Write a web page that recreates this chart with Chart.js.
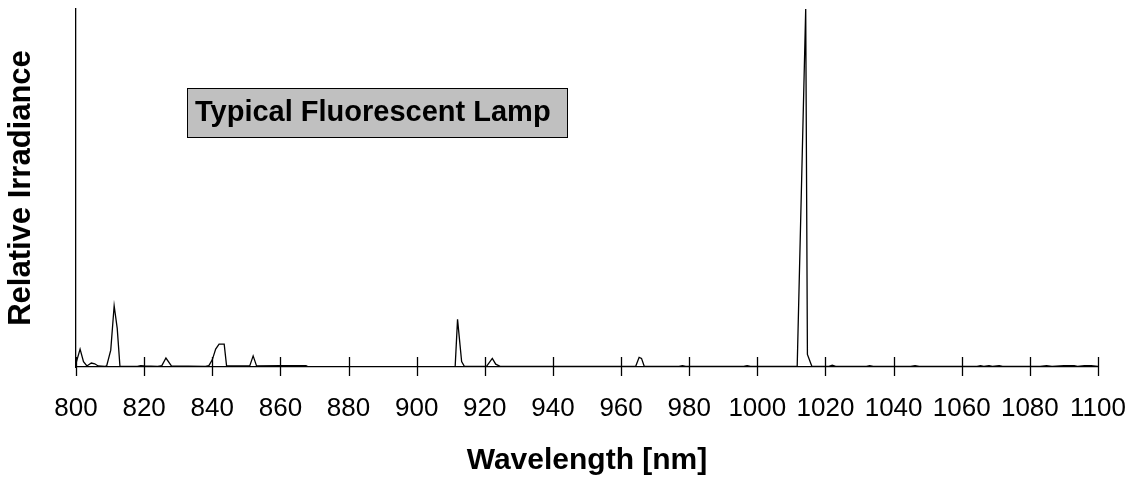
<!DOCTYPE html>
<html>
<head>
<meta charset="utf-8">
<script src="https://cdn.jsdelivr.net/npm/chart.js@4/dist/chart.umd.min.js"></script>
<style>
  html, body { margin: 0; padding: 0; background: #ffffff; }
  #wrap { width: 1133px; height: 477px; position: relative; }
</style>
</head>
<body>
<div id="wrap"><canvas id="c" width="1133" height="477"></canvas></div>
<script>
// Wavelength samples (nm)
const wavelengths = [
  800, 801.2, 802.2, 803.2, 804.5, 805.5, 806.5, 808.5, 809, 810.2, 811.2, 812.1, 812.9,
  818, 819, 820, 824, 825.2, 826.4, 828, 838, 839, 840, 841, 842, 843.5, 844.2,
  851, 852, 853, 860, 867.5, 868, 911.3, 912, 913.2, 914, 920.5, 922.2, 923.2, 924.5,
  964.3, 965.3, 966, 966.8, 977, 978, 979, 996, 997, 998,
  1011.7, 1014.2, 1014.7, 1016, 1021, 1022, 1023, 1032, 1033, 1034, 1045, 1046.3, 1047.5,
  1064.5, 1065.5, 1066.5, 1068, 1069, 1071, 1072, 1083, 1084.9, 1086.5, 1090, 1093, 1094,
  1096, 1098, 1100
];
// Relative irradiance at those wavelengths
const irradiance = [
  0.010, 0.050, 0.015, 0.003, 0.011, 0.009, 0.003, 0.002, 0.003, 0.047, 0.171, 0.108, 0.002,
  0.002, 0.004, 0.003, 0.002, 0.004, 0.025, 0.003, 0.002, 0.004, 0.020, 0.050, 0.064, 0.064, 0.003,
  0.003, 0.031, 0.003, 0.004, 0.004, 0.001, 0.001, 0.133, 0.015, 0.002, 0.002, 0.024, 0.008, 0.002,
  0.002, 0.027, 0.024, 0.002, 0.002, 0.004, 0.002, 0.002, 0.004, 0.002,
  0.002, 1.000, 0.035, 0.002, 0.002, 0.005, 0.002, 0.002, 0.004, 0.002, 0.002, 0.004, 0.002,
  0.002, 0.004, 0.002, 0.004, 0.002, 0.004, 0.002, 0.002, 0.004, 0.002, 0.004, 0.004, 0.002,
  0.004, 0.004, 0.002
];
const xTickValues = [800, 820, 840, 860, 880, 900, 920, 940, 960, 980, 1000, 1020, 1040, 1060, 1080, 1100];
const xTitle = 'Wavelength [nm]';
const yTitle = 'Relative Irradiance';
const boxLabel = 'Typical Fluorescent Lamp';

const FONT = '"Liberation Sans", Arial, Helvetica, sans-serif';

const points = wavelengths.map((w, i) => ({ x: w, y: irradiance[i] }));

// Tick marks crossing the x axis
const crossTicks = {
  id: 'crossTicks',
  afterDraw(chart) {
    const sx = chart.scales.x;
    const ctx = chart.ctx;
    const yb = chart.chartArea.bottom;
    ctx.save();
    ctx.strokeStyle = '#000';
    ctx.lineWidth = 1.3;
    sx.ticks.forEach(t => {
      const px = Math.round(sx.getPixelForValue(t.value)) + 0.5;
      ctx.beginPath();
      ctx.moveTo(px, yb - 10);
      ctx.lineTo(px, yb + 9);
      ctx.stroke();
    });
    ctx.restore();
  }
};

// Gray annotation box
const labelBox = {
  id: 'labelBox',
  afterDraw(chart) {
    const ctx = chart.ctx;
    const a = chart.chartArea;
    const x0 = a.left + 111, y0 = a.top + 79, w = 380, h = 49;
    ctx.save();
    ctx.fillStyle = '#c0c0c0';
    ctx.fillRect(x0, y0, w, h);
    ctx.strokeStyle = '#000';
    ctx.lineWidth = 1;
    ctx.strokeRect(x0 + 0.5, y0 + 0.5, w, h);
    ctx.fillStyle = '#000';
    ctx.font = 'bold 29px ' + FONT;
    ctx.textBaseline = 'alphabetic';
    ctx.textAlign = 'left';
    ctx.fillText(boxLabel, x0 + 8, y0 + 33);
    ctx.restore();
  }
};

new Chart(document.getElementById('c'), {
  type: 'line',
  data: {
    datasets: [{
      data: points,
      borderColor: '#000',
      borderWidth: 1.3,
      pointRadius: 0,
      tension: 0,
      fill: false
    }]
  },
  options: {
    responsive: false,
    animation: false,
    events: [],
    layout: { padding: { top: 9, right: 35, left: 0, bottom: 0 } },
    plugins: { legend: { display: false }, tooltip: { enabled: false } },
    scales: {
      x: {
        type: 'linear',
        min: 800, max: 1100,
        afterBuildTicks(scale) { scale.ticks = xTickValues.map(v => ({ value: v })); },
        afterFit(scale) { scale.height = 110; scale.paddingLeft = 0; scale.paddingRight = 0; },
        grid: { display: false, drawTicks: false },
        border: { display: true, color: '#000', width: 1.3 },
        ticks: {
          color: '#000',
          padding: 26,
          maxRotation: 0,
          autoSkip: false,
          font: { family: FONT, size: 26 },
          callback: v => String(v)
        },
        title: {
          display: true,
          text: xTitle,
          color: '#000',
          font: { family: FONT, size: 30, weight: 'bold', lineHeight: 1.1 },
          padding: { top: 0, bottom: 0 }
        }
      },
      y: {
        min: 0, max: 1,
        afterFit(scale) { scale.width = 76; scale.paddingTop = 0; scale.paddingBottom = 0; },
        grid: { display: false, drawTicks: false },
        border: { display: true, color: '#000', width: 1.3 },
        ticks: { display: false },
        title: {
          display: true,
          text: yTitle,
          color: '#000',
          font: { family: FONT, size: 31, weight: 'bold', lineHeight: 1.2 },
          padding: { top: 3, bottom: 0 }
        }
      }
    }
  },
  plugins: [crossTicks, labelBox]
});
</script>
</body>
</html>
